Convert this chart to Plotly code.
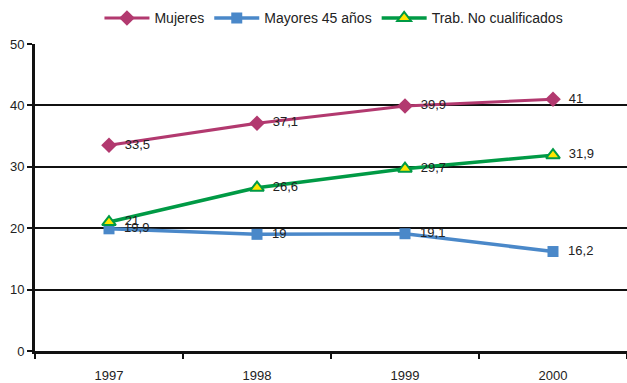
import plotly.graph_objects as go

years = ["1997", "1998", "1999", "2000"]
mujeres = [33.5, 37.1, 39.9, 41]
mayores45 = [19.9, 19, 19.1, 16.2]
trab_no_cual = [21, 26.6, 29.7, 31.9]

def lab(v):
    s = f"{v:g}"
    return "  " + s.replace(".", ",")

FONT = "Liberation Sans Narrow, Arial Narrow, Liberation Sans, Arial"
TXT = dict(color="#222222", size=13, family=FONT)

fig = go.Figure()
fig.add_trace(go.Scatter(
    x=years, y=mujeres, name="Mujeres", mode="lines+markers+text",
    line=dict(color="#B2396F", width=3),
    marker=dict(symbol="diamond", size=12, color="#B2396F"),
    text=[lab(v) for v in mujeres], textposition="middle right",
    textfont=TXT,
))
fig.add_trace(go.Scatter(
    x=years, y=mayores45, name="Mayores 45 años", mode="lines+markers+text",
    line=dict(color="#4A88C9", width=3.5),
    marker=dict(symbol="square", size=11, color="#4A88C9"),
    text=[lab(v) for v in mayores45], textposition="middle right",
    textfont=TXT,
))
fig.add_trace(go.Scatter(
    x=years, y=trab_no_cual, name="Trab. No cualificados", mode="lines+markers+text",
    line=dict(color="#009A45", width=3.5),
    marker=dict(symbol="triangle-up", size=12, color="#FFE600",
                line=dict(color="#009A45", width=2)),
    text=[lab(v) for v in trab_no_cual], textposition="middle right",
    textfont=TXT,
))

fig.update_layout(
    width=627, height=383,
    margin=dict(l=35, r=0, t=44, b=32, autoexpand=False),
    paper_bgcolor="white", plot_bgcolor="white",
    font=dict(family=FONT, size=13, color="#222222"),
    showlegend=True,
    legend=dict(orientation="h", x=0.505, xanchor="center",
                yref="container", y=0.952, yanchor="middle",
                font=dict(size=14, family=FONT), itemwidth=45,
                traceorder="normal"),
)
fig.update_xaxes(
    type="category", range=[-0.5, 3.5], tickson="boundaries",
    showline=True, linecolor="#111111", linewidth=3,
    ticks="outside", ticklen=5, tickwidth=2, tickcolor="#111111",
    showgrid=False, zeroline=False, automargin=False,
    ticklabelstandoff=10,
    tickfont=dict(size=13, family=FONT),
)
fig.update_yaxes(
    range=[0, 50], dtick=10,
    showline=True, linecolor="#111111", linewidth=3,
    ticks="outside", ticklen=5, tickwidth=2, tickcolor="#111111",
    showgrid=True, gridcolor="#111111", gridwidth=2,
    zeroline=False, automargin=False,
    tickfont=dict(size=13, family=FONT),
)

fig.write_html("out.html", config={"displayModeBar": False},
               post_script="document.body.style.margin='0';")
